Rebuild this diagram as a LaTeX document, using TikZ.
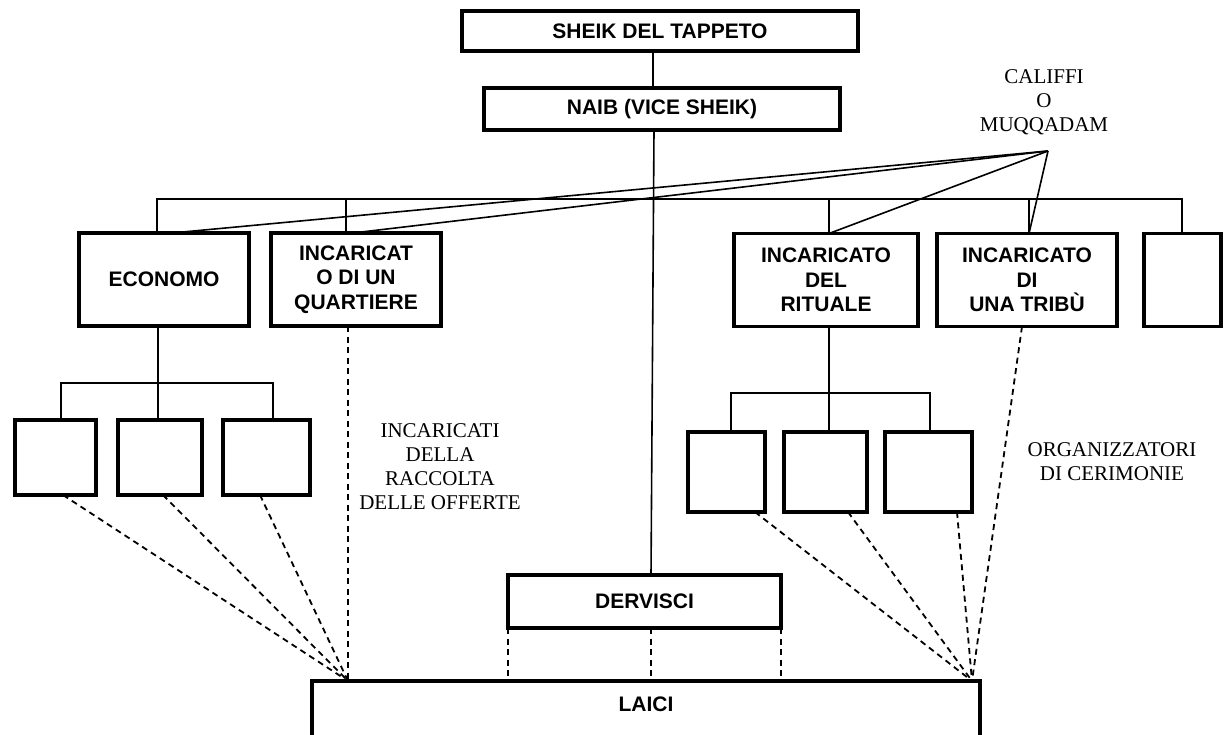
\documentclass[tikz,border=0pt]{standalone}
\usepackage{fontspec}
\setmainfont{Liberation Serif}
\newfontfamily\boxfont{Liberation Sans}
\begin{document}
\begin{tikzpicture}[x=1pt,y=-1pt,
  box/.style={draw, line width=3.6pt, rectangle, outer sep=0pt, inner sep=0pt,
    align=center, font=\boxfont\bfseries\fontsize{21}{24.5}\selectfont},
  link/.style={line width=1.6pt},
  dlink/.style={line width=1.8pt, dash pattern=on 6pt off 4.5pt},
  note/.style={align=center, inner sep=0pt, font=\fontsize{21}{24}\selectfont}]
\useasboundingbox (0,0) rectangle (1225,735);
\clip (0,0) rectangle (1225,735);

% top of the hierarchy
\node[box, minimum width=396, minimum height=40] (sheik) at (660,31) {SHEIK DEL TAPPETO};
\node[box, minimum width=356, minimum height=42] (naib) at (662,109) {NAIB (VICE SHEIK)};

% second row
\node[box, minimum width=170, minimum height=93] (econ) at (164,279.5) {ECONOMO};
\node[box, minimum width=170, minimum height=93] (quart) at (356,279.5) {INCARICAT\\O DI UN\\QUARTIERE};
\node[box, minimum width=184, minimum height=93] (rit) at (826,280) {INCARICATO\\DEL\\RITUALE};
\node[box, minimum width=180, minimum height=93] (trib) at (1027,280) {INCARICATO\\DI\\UNA TRIBÙ};
\node[box, minimum width=77, minimum height=93] (last) at (1182.5,280) {};

% small boxes under the economo
\node[box, minimum width=81, minimum height=75] (sl1) at (55.5,457.5) {};
\node[box, minimum width=84, minimum height=75] (sl2) at (160,457.5) {};
\node[box, minimum width=87, minimum height=75] (sl3) at (266.5,457.5) {};

% small boxes under the ritual officer
\node[box, minimum width=77, minimum height=80] (sr1) at (726.5,472) {};
\node[box, minimum width=83, minimum height=80] (sr2) at (825.5,472) {};
\node[box, minimum width=87, minimum height=80] (sr3) at (928.5,472) {};

% dervishes and laity
\node[box, minimum width=273, minimum height=53] (derv) at (644.5,601.5) {DERVISCI};
\node[box, anchor=north, minimum width=668, inner ysep=15.5, text height=15, text depth=60] (laici) at (646,681) {LAICI};

% side labels
\node[note] (califfi) at (1044,102) {CALIFFI\\O\\MUQQADAM};
\node[note] (raccolta) at (440,467) {INCARICATI\\DELLA\\RACCOLTA\\DELLE OFFERTE};
\node[note] (organ) at (1112,462) {ORGANIZZATORI\\DI CERIMONIE};

% main spine
\coordinate (spine) at (653,0);
\draw[link] (sheik.south -| spine) -- (naib.north -| spine);
\draw[link] ([xshift=-8]naib.south) -- ([xshift=6.5]derv.north);

% bus of the second row
\coordinate (b1) at (157,199);
\coordinate (b2) at (346,199);
\coordinate (b3) at (829,199);
\coordinate (b4) at (1029,199);
\coordinate (b5) at (1182,199);
\draw[link] (econ.north -| b1) -- (b1) -- (b5) -- (last.north -| b5);
\draw[link] (b2) -- (quart.north -| b2);
\draw[link] (b3) -- (rit.north -| b3);
\draw[link] (b4) -- (trib.north -| b4);

% lines from the califfi
\coordinate (apex) at (1048,151);
\draw[link] (apex) -- ([xshift=8]econ.north);
\draw[link] (apex) -- ([xshift=-3]quart.north);
\draw[link] (apex) -- ([xshift=3]rit.north);
\draw[link] (apex) -- ([xshift=2]trib.north);

% subtree of the economo
\coordinate (d1) at (61,383);
\coordinate (d2) at (158,383);
\coordinate (d3) at (273,383);
\draw[link] (econ.south -| d2) -- (sl2.north -| d2);
\draw[link] (sl1.north -| d1) -- (d1) -- (d3) -- (sl3.north -| d3);

% subtree of the ritual officer
\coordinate (e1) at (731,393);
\coordinate (e2) at (829,393);
\coordinate (e3) at (930,393);
\draw[link] (rit.south -| e2) -- (sr2.north -| e2);
\draw[link] (sr1.north -| e1) -- (e1) -- (e3) -- (sr3.north -| e3);

% dashed links down to the laity
\coordinate (cl) at (348,681);
\coordinate (cr) at (972,681);
\draw[dlink] ([xshift=7.5]sl1.south) -- (cl);
\draw[dlink] ([xshift=3]sl2.south) -- (cl);
\draw[dlink] ([xshift=-6.5]sl3.south) -- (cl);
\draw[dlink] (quart.south -| cl) -- (cl);
\draw[dlink] ([xshift=28.5]sr1.south) -- (cr);
\draw[dlink] ([xshift=22.5]sr2.south) -- (cr);
\draw[dlink] ([xshift=28.5]sr3.south) -- (cr);
\draw[dlink] ([xshift=-5]trib.south) -- (cr);

\draw[dlink] (derv.south west) -- (derv.south west |- laici.north);
\draw[dlink] ([xshift=6.5]derv.south) -- ([xshift=6.5]derv.south |- laici.north);
\draw[dlink] (derv.south east) -- (derv.south east |- laici.north);
\end{tikzpicture}
\end{document}
